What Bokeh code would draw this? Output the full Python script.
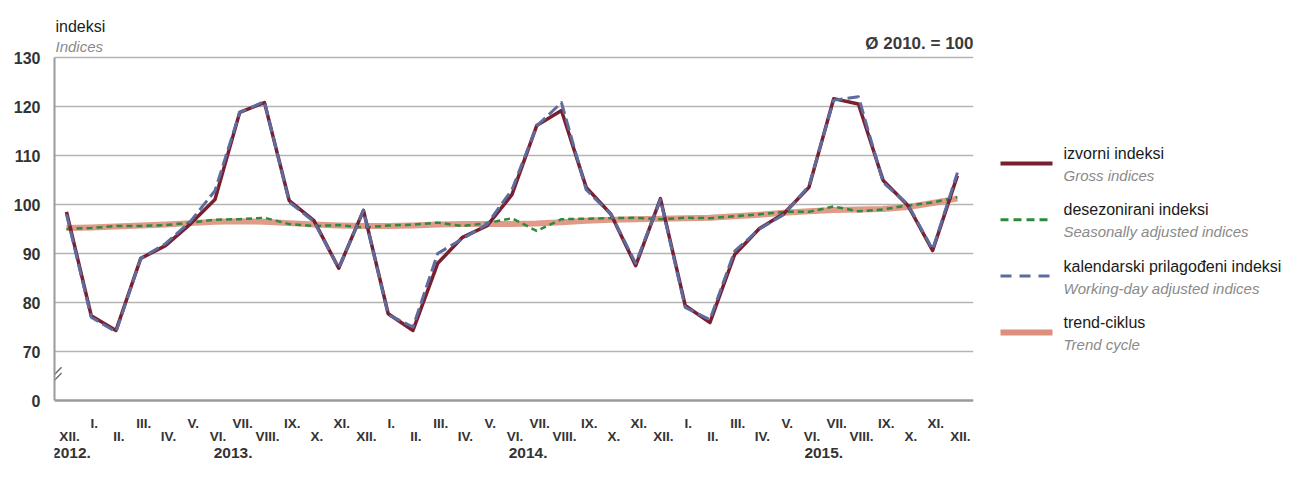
from bokeh.plotting import figure
from bokeh.models import Range1d, FixedTicker, Span
from bokeh.layouts import row
from bokeh.embed import file_html
from bokeh.resources import INLINE
from bokeh.core.properties import value

# ---------------- data ----------------
months = ["XII.",
          "I.", "II.", "III.", "IV.", "V.", "VI.", "VII.", "VIII.", "IX.", "X.", "XI.", "XII.",
          "I.", "II.", "III.", "IV.", "V.", "VI.", "VII.", "VIII.", "IX.", "X.", "XI.", "XII.",
          "I.", "II.", "III.", "IV.", "V.", "VI.", "VII.", "VIII.", "IX.", "X.", "XI.", "XII."]
year_labels = ["2012.", "2013.", "2014.", "2015."]

gross = [98.5, 77.3, 74.3, 89.0, 91.6, 96.0, 101.0, 118.8, 120.8, 100.8, 96.7, 87.0,
         98.8, 77.7, 74.3, 88.0, 93.3, 95.7, 102.0, 116.1, 119.2, 103.5, 98.0, 87.5,
         101.2, 79.4, 75.9, 89.8, 95.1, 98.2, 103.5, 121.6, 120.5, 104.9, 99.8, 90.6,
         105.9]
working_day = [98.0, 77.0, 74.0, 89.0, 92.0, 96.5, 102.8, 118.8, 121.0, 100.5, 96.5, 87.0,
               98.8, 77.5, 75.0, 90.0, 93.0, 96.0, 103.0, 116.0, 120.8, 103.0, 98.0, 88.0,
               101.0, 79.0, 76.5, 90.5, 95.0, 98.0, 103.8, 121.3, 122.0, 104.5, 100.0, 90.8,
               106.5]
seasonal = [95.0, 95.2, 95.6, 95.6, 95.8, 96.3, 96.9, 97.0, 97.3, 96.0, 95.6, 95.8,
            95.3, 95.7, 95.9, 96.3, 95.6, 96.2, 97.2, 94.6, 97.0, 97.1, 97.2, 97.3,
            97.0, 97.3, 97.2, 97.6, 98.0, 98.5, 98.5, 99.6, 98.6, 99.0, 99.8, 100.4,
            101.5]
trend = [95.2, 95.3, 95.5, 95.7, 95.9, 96.2, 96.5, 96.6, 96.5, 96.2, 95.9, 95.7,
         95.6, 95.6, 95.7, 95.9, 96.0, 96.0, 96.0, 96.1, 96.4, 96.7, 96.9, 97.0,
         97.1, 97.2, 97.3, 97.6, 97.9, 98.3, 98.6, 98.9, 99.0, 99.1, 99.5, 100.3,
         101.2]
y_tick_values = [60, 70, 80, 90, 100, 110, 120, 130]
y_tick_labels = ["0", "70", "80", "90", "100", "110", "120", "130"]

legend_titles = ["izvorni indeksi", "desezonirani indeksi",
                 "kalendarski prilagođeni indeksi", "trend-ciklus"]
legend_subtitles = ["Gross indices", "Seasonally adjusted indices",
                    "Working-day adjusted indices", "Trend cycle"]

# ---------------- layout / style ----------------
FONT = "Liberation Sans"
x = list(range(len(months)))
odd_idx = [i for i in x if i % 2 == 1]
even_idx = [i for i in x if i % 2 == 0]
year_positions = [0.2, 6.73, 18.65, 30.6]
ROW_UP, ROW_LOW, ROW_YEAR = 55.3, 52.65, 49.25   # label rows below the axis (value units)

C_GROSS = "#7a1f30"
C_SEAS = "#2e8b3c"
C_WORK = "#5d6c9c"
C_TREND = "#dc8f7c"
C_LABEL = "#333333"

H = 461
p = figure(width=988, height=H, output_backend="svg", toolbar_location=None,
           x_range=Range1d(-0.485, 36.65), y_range=Range1d(60 - 61 / 4.9, 130 + 57 / 4.9),
           x_axis_type=None,
           min_border_left=54, min_border_right=15, min_border_top=0,
           min_border_bottom=0)
p.title.visible = False
p.outline_line_color = None
p.background_fill_color = "white"
p.xgrid.visible = False

# y axis
yax = p.yaxis[0]
yax.ticker = FixedTicker(ticks=y_tick_values)
yax.bounds = (60, 130)
yax.major_label_overrides = {v: l for v, l in zip(y_tick_values, y_tick_labels)}
yax.major_tick_out = 0
yax.major_tick_in = 0
yax.minor_tick_out = 0
yax.minor_tick_in = 0
yax.axis_line_color = "#9a9a9a"
yax.axis_line_width = 2
yax.major_label_standoff = 14
yax.major_label_text_font = FONT
yax.major_label_text_font_size = "16px"
yax.major_label_text_font_style = "bold"
yax.major_label_text_color = C_LABEL
p.ygrid.ticker = FixedTicker(ticks=y_tick_values[1:])
p.ygrid.grid_line_color = "#b4b4b4"
p.ygrid.grid_line_width = 1.5

# baseline (x axis line at the "0" level)
p.add_layout(Span(location=y_tick_values[0], dimension="width",
                  line_color="#9a9a9a", line_width=2.5))

# axis-break mark
p.segment(x0=[-0.72, -0.72], y0=[62.9, 64.1], x1=[-0.2, -0.2], y1=[65.6, 66.8],
          line_color="#666666", line_width=1.3)

# series
p.line(x, trend, color=C_TREND, line_width=6, line_alpha=0.9, line_join="round")
p.line(x, seasonal, color=C_SEAS, line_width=2.5, line_dash="6 4", line_join="round")
p.line(x, gross, color=C_GROSS, line_width=3.5, line_join="round")
p.line(x, working_day, color=C_WORK, line_width=3, line_dash="12 5", line_join="round")

# month / year tick labels
p.text(x=odd_idx, y=[ROW_UP] * len(odd_idx), text=[months[i] for i in odd_idx],
       text_font=value(FONT), text_font_size="13.5px", text_font_style="bold",
       text_color=C_LABEL, text_align="center", text_baseline="middle", x_offset=3)
p.text(x=even_idx, y=[ROW_LOW] * len(even_idx), text=[months[i] for i in even_idx],
       text_font=value(FONT), text_font_size="13.5px", text_font_style="bold",
       text_color=C_LABEL, text_align="center", text_baseline="middle", x_offset=3)
p.text(x=year_positions, y=[ROW_YEAR] * len(year_positions), text=year_labels,
       text_font=value(FONT), text_font_size="15.5px", text_font_style="bold",
       text_color=C_LABEL, text_align="center", text_baseline="middle")

# texts above the frame area
p.text(x=[-0.444], y=[136.33], text=["indeksi"], text_font=value(FONT),
       text_font_size="16px", text_color="#222222",
       text_baseline="middle", text_align="left")
p.text(x=[-0.444], y=[132.2], text=["Indices"], text_font=value(FONT),
       text_font_size="15px", text_font_style="italic",
       text_color="#8a8a8a", text_baseline="middle", text_align="left")
p.text(x=[36.65], y=[132.86], text=["Ø 2010. = 100"], text_font=value(FONT),
       text_font_size="17px", text_font_style="bold", text_color="#3a3a3a",
       text_baseline="middle", text_align="right")

# ---------------- legend panel ----------------
p2 = figure(width=297, height=H, output_backend="svg", toolbar_location=None,
            x_range=Range1d(988, 1285), y_range=Range1d(H, 0),
            x_axis_type=None, y_axis_type=None, min_border=0)
p2.title.visible = False
p2.outline_line_color = None
p2.grid.visible = False

leg_x0, leg_x1, text_x = 1000, 1052, 1063
leg_y0, leg_dy = 163, 56.3
styles = [dict(color=C_GROSS, line_width=4),
          dict(color=C_SEAS, line_width=3, line_dash="8 5"),
          dict(color=C_WORK, line_width=3, line_dash="11 8"),
          dict(color=C_TREND, line_width=6)]
ys = [leg_y0 + leg_dy * i for i in range(4)]
for yy, st in zip(ys, styles):
    p2.line([leg_x0, leg_x1], [yy, yy], **st)
p2.text(x=[text_x] * 4, y=[v - 10 for v in ys], text=legend_titles,
        text_font=value(FONT), text_font_size="16px", text_color="#1a1a1a",
        text_baseline="middle", text_align="left")
p2.text(x=[text_x] * 4, y=[v + 12 for v in ys], text=legend_subtitles,
        text_font=value(FONT), text_font_size="15px", text_font_style="italic",
        text_color="#8a8a8a", text_baseline="middle", text_align="left")

layout = row(p, p2)
open("out.html", "w").write(file_html(layout, INLINE))
